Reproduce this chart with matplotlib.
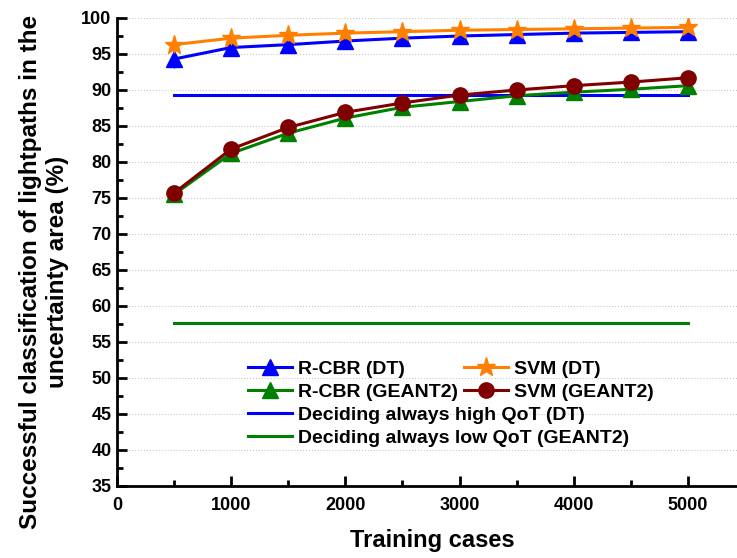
import numpy as np
import matplotlib.pyplot as plt
from matplotlib.lines import Line2D
from matplotlib.ticker import MultipleLocator

plt.rcParams['font.family'] = ['Liberation Sans', 'DejaVu Sans']
plt.rcParams['font.weight'] = 'bold'

cases = [500, 1000, 1500, 2000, 2500, 3000, 3500, 4000, 4500, 5000]
rcbr_dt = [94.3, 95.9, 96.3, 96.8, 97.2, 97.5, 97.7, 97.9, 98.0, 98.1]
svm_dt = [96.3, 97.2, 97.6, 97.9, 98.1, 98.3, 98.4, 98.5, 98.6, 98.7]
rcbr_geant = [75.5, 81.2, 84.0, 86.1, 87.6, 88.4, 89.2, 89.7, 90.1, 90.6]
svm_geant = [75.7, 81.8, 84.8, 86.9, 88.2, 89.3, 90.0, 90.6, 91.1, 91.7]
err_dt = [1.2, 0.9, 0.8, 0.8, 0.7, 0.7, 0.7, 0.7, 0.7, 0.7]
err_geant = [0.9, 1.0, 1.0, 1.0, 1.0, 0.9, 0.9, 0.9, 0.9, 0.9]
high_qot_dt = 89.3
low_qot_geant = 57.6

blue = '#0000ff'
orange = '#ff8000'
green = '#008000'
dred = '#800000'

fig = plt.figure(figsize=(7.37, 5.58), dpi=100)
ax = fig.add_axes([117 / 737, 1 - 486 / 558, 1 - 117 / 737, (486 - 18) / 558])

ax.plot([cases[0], cases[-1]], [high_qot_dt] * 2, color=blue, lw=2.2, zorder=2)
ax.plot([cases[0], cases[-1]], [low_qot_geant] * 2, color=green, lw=2.2, zorder=2)

ax.errorbar(cases, rcbr_dt, yerr=err_dt, color=blue, lw=2.2, marker='^', ms=12,
            elinewidth=1, capsize=0, zorder=3)
ax.errorbar(cases, svm_dt, yerr=err_dt, color=orange, lw=2.2, marker='*', ms=14,
            elinewidth=1, capsize=0, zorder=4)
ax.errorbar(cases, rcbr_geant, yerr=err_geant, color=green, lw=2.2, marker='^', ms=12,
            elinewidth=1, capsize=0, zorder=3)
ax.errorbar(cases, svm_geant, yerr=err_geant, color=dred, lw=2.2, marker='o', ms=11,
            elinewidth=1, capsize=0, zorder=4)

ax.set_xlim(0, 5430)
ax.set_ylim(35, 100)
ax.xaxis.set_major_locator(MultipleLocator(1000))
ax.xaxis.set_minor_locator(MultipleLocator(500))
ax.yaxis.set_major_locator(MultipleLocator(5))
ax.yaxis.set_minor_locator(MultipleLocator(2.5))
ax.tick_params(which='major', direction='in', length=7, width=2, labelsize=13)
ax.tick_params(which='minor', direction='in', length=4, width=2)
ax.tick_params(axis='x', pad=8)
ax.tick_params(axis='y', pad=4)
for s in ['top', 'right']:
    ax.spines[s].set_visible(False)
for s in ['left', 'bottom']:
    ax.spines[s].set_linewidth(2)
ax.grid(axis='y', which='major', color='#c8c8c8', ls=':', lw=0.8)
ax.set_axisbelow(True)

ax.set_xlabel('Training cases', fontsize=17, fontweight='bold')
ax.set_ylabel('Successful classification of lightpaths in the\nuncertainty area (%)',
              fontsize=17.5, fontweight='bold', linespacing=1.25)
ax.yaxis.set_label_coords(-0.077, 0.457)
ax.xaxis.set_label_coords(0.508, -0.092)

# column-major order so that rows read R-CBR | SVM
h1 = [Line2D([], [], color=blue, lw=2.2, marker='^', ms=12),
      Line2D([], [], color=green, lw=2.2, marker='^', ms=12),
      Line2D([], [], color=orange, lw=2.2, marker='*', ms=14),
      Line2D([], [], color=dred, lw=2.2, marker='o', ms=11)]
l1 = ['R-CBR (DT)', 'R-CBR (GEANT2)', 'SVM (DT)', 'SVM (GEANT2)']
leg1 = fig.legend(h1, l1, ncol=2, loc='upper left', bbox_to_anchor=(248 / 737, 1 - 360 / 558),
                  frameon=False, fontsize=14, handlelength=2.27, handletextpad=0.31,
                  columnspacing=0.3, labelspacing=0.3, borderpad=0, borderaxespad=0)
h2 = [Line2D([], [], color=blue, lw=2.2), Line2D([], [], color=green, lw=2.2)]
l2 = ['Deciding always high QoT (DT)', 'Deciding always low QoT (GEANT2)']
fig.legend(h2, l2, loc='upper left', bbox_to_anchor=(248 / 737, 1 - 406 / 558),
           frameon=False, fontsize=14, handlelength=2.27, handletextpad=0.31,
           labelspacing=0.3, borderpad=0, borderaxespad=0)

fig.savefig('out.png', dpi=100)
